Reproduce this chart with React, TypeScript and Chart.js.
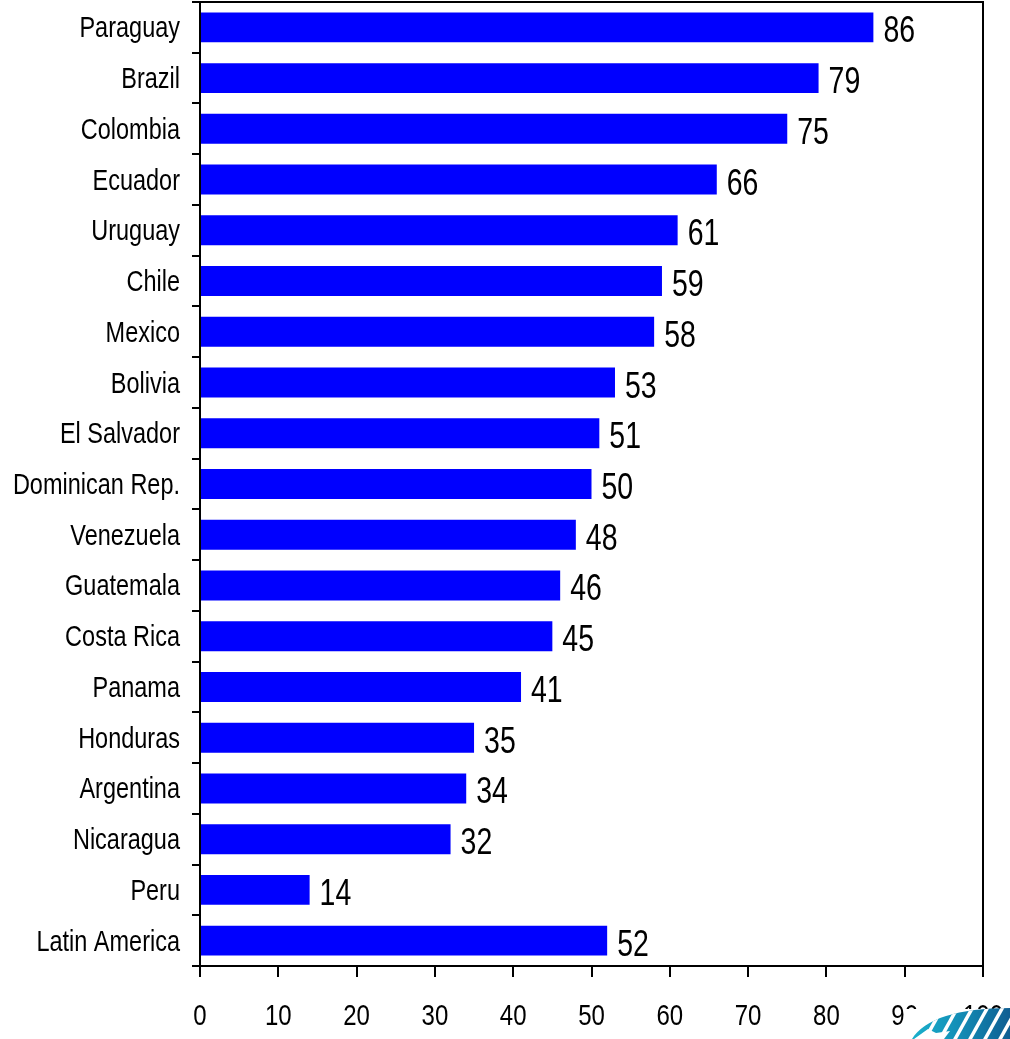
import React, { useEffect, useRef } from 'react';
import Chart from 'chart.js/auto';

const COUNTRIES = [
    'Paraguay', 'Brazil', 'Colombia', 'Ecuador', 'Uruguay', 'Chile', 'Mexico',
    'Bolivia', 'El Salvador', 'Dominican Rep.', 'Venezuela', 'Guatemala',
    'Costa Rica', 'Panama', 'Honduras', 'Argentina', 'Nicaragua', 'Peru',
    'Latin America'
];
const VALUES = [86, 79, 75, 66, 61, 59, 58, 53, 51, 50, 48, 46, 45, 41, 35, 34, 32, 14, 52];
const X_MIN = 0;
const X_MAX = 100;
const X_STEP = 10;

// no Arial Narrow here, so squeeze Liberation Sans by hand
const FONT = "'Liberation Sans', Arial, sans-serif";

const narrowText = (ctx: any, text: string, x: number, y: number, size: number, squeeze: number, align: string) => {
    ctx.save();
    ctx.font = `${size}px ${FONT}`;
    ctx.fillStyle = '#000';
    ctx.textAlign = align;
    ctx.textBaseline = 'alphabetic';
    ctx.translate(x, y);
    ctx.scale(squeeze, 1);
    ctx.fillText(text, 0, 0);
    ctx.restore();
};

// right + top border of the plot box
const framePlugin = {
    id: 'frame',
    afterDraw(chart: any) {
        const { ctx, chartArea } = chart;
        ctx.save();
        ctx.strokeStyle = '#000';
        ctx.lineWidth = 2;
        ctx.beginPath();
        ctx.moveTo(chartArea.left - 8, chartArea.top);
        ctx.lineTo(chartArea.right, chartArea.top);
        ctx.lineTo(chartArea.right, chartArea.bottom);
        ctx.stroke();
        ctx.restore();
    }
};

const textPlugin = {
    id: 'texts',
    afterDraw(chart: any) {
        const { ctx } = chart;
        const xs = chart.scales.x;
        const ys = chart.scales.y;
        COUNTRIES.forEach((name, i) => {
            narrowText(ctx, name, ys.right - 20, ys.getPixelForValue(i) + 10, 29, 0.81, 'right');
        });
        for (let v = X_MIN; v <= X_MAX; v += X_STEP) {
            narrowText(ctx, String(v), xs.getPixelForValue(v), 1025, 30, 0.8, 'center');
        }
        const meta = chart.getDatasetMeta(0);
        meta.data.forEach((bar: any, i: number) => {
            narrowText(ctx, String(VALUES[i]), bar.x + 10, bar.y + 15, 37, 0.77, 'left');
        });
    }
};

// corner logo, partly covering the last tick labels
const Logo: React.FC = () => (
    <svg width={108} height={32} style={{ position: 'absolute', left: 902, top: 1007 }}>
        <defs>
            <clipPath id="logoClip">
                <path d="M10 32 C22 12 56 1 108 1 L108 32 Z" />
            </clipPath>
            <linearGradient id="logoGrad" x1="0" x2="1" y1="0" y2="0">
                <stop offset="0" stopColor="#1cb8d0" />
                <stop offset="0.5" stopColor="#1390b8" />
                <stop offset="1" stopColor="#0f5e92" />
            </linearGradient>
        </defs>
        <rect x={2} y={2} width={106} height={30} fill="#fff" />
        <g clipPath="url(#logoClip)">
            <rect x={0} y={0} width={108} height={32} fill="url(#logoGrad)" />
            {[0, 1, 2, 3, 4, 5, 6, 7].map(i => (
                <line key={i} x1={22 + i * 15} y1={34} x2={42 + i * 15} y2={-2} stroke="#fff" strokeWidth={3.5} />
            ))}
            <path d="M12 32 L26 22 L34 26 L48 24 L42 32 Z" fill="#fff" />
        </g>
    </svg>
);

const BarChart: React.FC = () => {
    const canvasRef = useRef<HTMLCanvasElement>(null);

    useEffect(() => {
        if (!canvasRef.current) return;
        const chart = new Chart(canvasRef.current, {
            type: 'bar',
            data: {
                labels: COUNTRIES,
                datasets: [{
                    data: VALUES,
                    backgroundColor: '#0000ff',
                    barPercentage: 0.59,
                    categoryPercentage: 1,
                }]
            },
            options: {
                indexAxis: 'y',
                animation: false,
                responsive: true,
                maintainAspectRatio: false,
                layout: { padding: { top: 2, right: 27, left: 0, bottom: 0 } },
                plugins: {
                    legend: { display: false },
                    tooltip: { enabled: false },
                },
                scales: {
                    x: {
                        min: X_MIN,
                        max: X_MAX,
                        ticks: { stepSize: X_STEP, display: false },
                        grid: { drawOnChartArea: false, tickLength: 11, color: '#000', lineWidth: 2 },
                        border: { color: '#000', width: 2 },
                        afterFit: (scale: any) => { scale.height = 73; },
                    },
                    y: {
                        ticks: { display: false },
                        grid: { drawOnChartArea: false, tickLength: 8, color: '#000', lineWidth: 2, offset: true },
                        border: { color: '#000', width: 2 },
                        afterFit: (scale: any) => { scale.width = 200; },
                    }
                }
            },
            plugins: [framePlugin, textPlugin]
        });
        return () => chart.destroy();
    }, []);

    return <canvas ref={canvasRef} />;
};

const App: React.FC = () => (
    <div style={{ position: 'fixed', left: 0, top: 0, width: 1010, height: 1039, background: '#fff', overflow: 'hidden' }}>
        <BarChart />
        <Logo />
    </div>
);

export default App;
